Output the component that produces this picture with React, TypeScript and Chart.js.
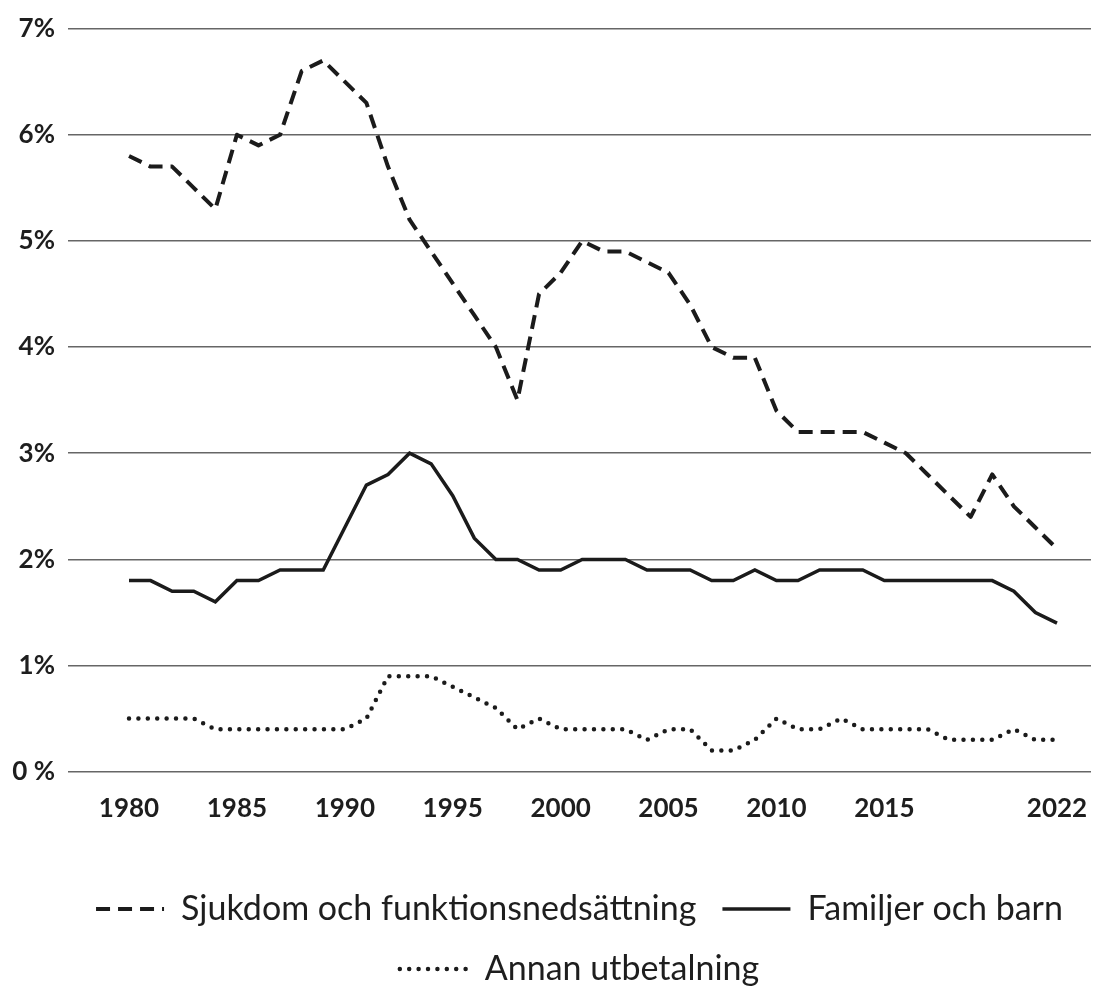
import React, { useEffect, useRef } from "react";
import { Chart, registerables } from "chart.js";

Chart.register(...registerables);

// Years of the series (44 annual points)
const years = [
  1980, 1981, 1982, 1983, 1984, 1985, 1986, 1987, 1988, 1989,
  1990, 1991, 1992, 1993, 1994, 1995, 1996, 1997, 1998, 1999,
  2000, 2001, 2002, 2003, 2004, 2005, 2006, 2007, 2008, 2009,
  2010, 2011, 2012, 2013, 2014, 2015, 2016, 2017, 2018, 2019,
  2020, 2021, 2022, 2023,
];

// Percent values
const sjukdom = [
  5.8, 5.7, 5.7, 5.5, 5.3, 6.0, 5.9, 6.0, 6.6, 6.7,
  6.5, 6.3, 5.7, 5.2, 4.9, 4.6, 4.3, 4.0, 3.5, 4.5,
  4.7, 5.0, 4.9, 4.9, 4.8, 4.7, 4.4, 4.0, 3.9, 3.9,
  3.4, 3.2, 3.2, 3.2, 3.2, 3.1, 3.0, 2.8, 2.6, 2.4,
  2.8, 2.5, 2.3, 2.1,
];

const familjer = [
  1.8, 1.8, 1.7, 1.7, 1.6, 1.8, 1.8, 1.9, 1.9, 1.9,
  2.3, 2.7, 2.8, 3.0, 2.9, 2.6, 2.2, 2.0, 2.0, 1.9,
  1.9, 2.0, 2.0, 2.0, 1.9, 1.9, 1.9, 1.8, 1.8, 1.9,
  1.8, 1.8, 1.9, 1.9, 1.9, 1.8, 1.8, 1.8, 1.8, 1.8,
  1.8, 1.7, 1.5, 1.4,
];

const annan = [
  0.5, 0.5, 0.5, 0.5, 0.4, 0.4, 0.4, 0.4, 0.4, 0.4,
  0.4, 0.5, 0.9, 0.9, 0.9, 0.8, 0.7, 0.6, 0.4, 0.5,
  0.4, 0.4, 0.4, 0.4, 0.3, 0.4, 0.4, 0.2, 0.2, 0.3,
  0.5, 0.4, 0.4, 0.5, 0.4, 0.4, 0.4, 0.4, 0.3, 0.3,
  0.3, 0.4, 0.3, 0.3,
];

const seriesNames = [
  "Sjukdom och funktionsnedsättning",
  "Familjer och barn",
  "Annan utbetalning",
];

const yTickLabels = ["0 %", "1%", "2%", "3%", "4%", "5%", "6%", "7%"];
const xTickYears = [1980, 1985, 1990, 1995, 2000, 2005, 2010, 2015, 2023];
const xTickLabels = ["1980", "1985", "1990", "1995", "2000", "2005", "2010", "2015", "2022"];

const INK = "#1b1b1b";
const TEXT = "#1e1e1e";
const GRID = "#666666";

export default function App() {
  const canvasRef = useRef<HTMLCanvasElement | null>(null);

  useEffect(() => {
    const canvas = canvasRef.current;
    if (!canvas) return;

    const toPoints = (vals: number[]) => years.map((yr, i) => ({ x: yr, y: vals[i] }));

    const chart = new Chart(canvas, {
      type: "line",
      data: {
        datasets: [
          {
            label: seriesNames[0],
            data: toPoints(sjukdom),
            borderColor: INK,
            backgroundColor: INK,
            borderWidth: 4,
            borderDash: [14, 8],
            borderCapStyle: "butt",
            borderJoinStyle: "round",
            pointRadius: 0,
            tension: 0,
            fill: false,
          },
          {
            label: seriesNames[1],
            data: toPoints(familjer),
            borderColor: INK,
            backgroundColor: INK,
            borderWidth: 3.5,
            borderCapStyle: "butt",
            borderJoinStyle: "miter",
            pointRadius: 0,
            tension: 0,
            fill: false,
          },
          {
            label: seriesNames[2],
            data: toPoints(annan),
            borderColor: INK,
            backgroundColor: INK,
            borderWidth: 4.5,
            borderDash: [0, 9.4],
            borderCapStyle: "round",
            borderJoinStyle: "round",
            pointRadius: 0,
            tension: 0,
            fill: false,
          },
        ],
      },
      options: {
        animation: false,
        responsive: false,
        devicePixelRatio: 1,
        layout: { padding: { top: 25, right: 3, bottom: -4, left: 0 } },
        plugins: {
          tooltip: { enabled: false },
          legend: {
            display: true,
            position: "bottom",
            fullSize: false,
            labels: {
              usePointStyle: true,
              pointStyle: "line",
              pointStyleWidth: 68,
              padding: 26,
              color: TEXT,
              font: { family: "Lato", size: 34, weight: "normal" },
              generateLabels: (ch: any) =>
                ch.data.datasets.map((ds: any, i: number) => ({
                  text: ds.label,
                  fillStyle: ds.borderColor,
                  strokeStyle: ds.borderColor,
                  lineWidth: ds.borderWidth,
                  lineDash: ds.borderDash || [],
                  lineCap: ds.borderCapStyle,
                  lineJoin: ds.borderJoinStyle,
                  pointStyle: "line",
                  fontColor: TEXT,
                  hidden: !ch.isDatasetVisible(i),
                  datasetIndex: i,
                })),
            },
          },
        },
        scales: {
          x: {
            type: "linear",
            min: 1977.173,
            max: 2024.576,
            grid: { display: false, drawTicks: false },
            border: { display: false },
            afterBuildTicks: (axis: any) => {
              axis.ticks = xTickYears.map((v) => ({ value: v }));
            },
            afterFit: (axis: any) => {
              axis.height = 94.3;
              axis.paddingLeft = 0;
              axis.paddingRight = 0;
            },
            ticks: {
              autoSkip: false,
              maxRotation: 0,
              padding: 21,
              color: TEXT,
              font: { family: "Lato", size: 26, weight: "bold" },
              callback: (value: any) => {
                const idx = xTickYears.indexOf(Number(value));
                return idx >= 0 ? xTickLabels[idx] : "";
              },
            },
          },
          y: {
            type: "linear",
            min: 0,
            max: 7,
            grid: { color: GRID, lineWidth: 1.5, drawTicks: false },
            border: { display: false },
            afterFit: (axis: any) => {
              axis.width = 68;
            },
            ticks: {
              stepSize: 1,
              padding: 13,
              color: TEXT,
              font: { family: "Lato", size: 26, weight: "bold" },
              callback: (value: any) => yTickLabels[Math.round(Number(value))] ?? "",
            },
          },
        },
      },
    });

    return () => {
      chart.destroy();
    };
  }, []);

  return (
    <div
      style={{
        position: "absolute",
        left: 0,
        top: 0,
        width: 1094,
        height: 992,
        background: "#ffffff",
        overflow: "hidden",
      }}
    >
      <canvas ref={canvasRef} width={1094} height={992} style={{ display: "block" }} />
    </div>
  );
}
